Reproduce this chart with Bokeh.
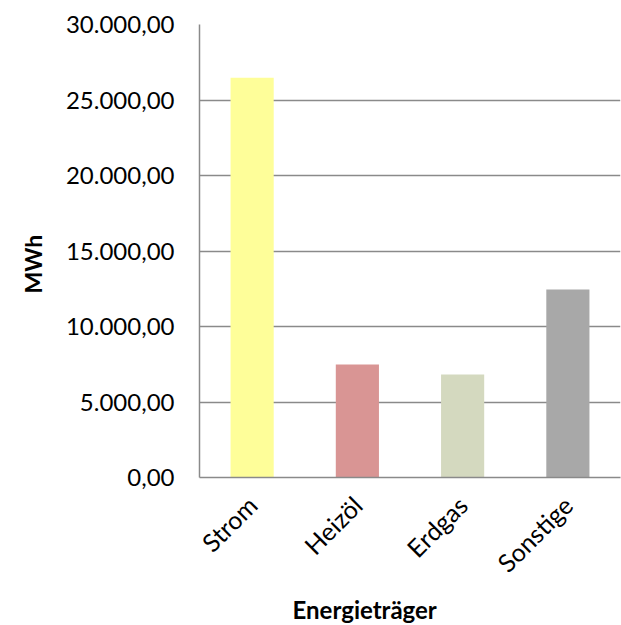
import math
from bokeh.plotting import figure
from bokeh.models import ColumnDataSource, FixedTicker, Title
from bokeh.embed import file_html
from bokeh.resources import INLINE

categories = ["Strom", "Heizöl", "Erdgas", "Sonstige"]
values = [26480, 7480, 6820, 12450]
colors = ["#FEFE99", "#D99594", "#D4D9BF", "#A8A8A8"]
y_ticks = [0, 5000, 10000, 15000, 20000, 25000, 30000]
y_tick_labels = ["0,00", "5.000,00", "10.000,00", "15.000,00", "20.000,00", "25.000,00", "30.000,00"]
x_title = "Energieträger"
y_title = "MWh"

src = ColumnDataSource(dict(cat=categories, val=values, color=colors))

p = figure(x_range=categories, y_range=(0, 30000), width=621, height=625,
           output_backend="svg", toolbar_location=None,
           min_border_left=199, min_border_right=1, min_border_top=24, min_border_bottom=148)
p.x_range.range_padding = 0
p.vbar(x="cat", top="val", width=0.41, fill_color="color", line_color=None, source=src)

font = "Lato"
p.outline_line_color = None
p.background_fill_color = "white"
p.border_fill_color = "white"

p.xgrid.grid_line_color = None
p.ygrid.grid_line_color = "#8A8A8A"
p.ygrid.grid_line_width = 1.5

p.yaxis.ticker = FixedTicker(ticks=y_ticks)
p.yaxis.major_label_overrides = {t: l for t, l in zip(y_ticks, y_tick_labels)}
p.yaxis.major_tick_line_color = None
p.yaxis.minor_tick_line_color = None
p.yaxis.axis_line_color = "#8A8A8A"
p.yaxis.axis_line_width = 1.5
p.yaxis.major_label_text_font = font
p.yaxis.major_label_text_font_size = "24px"
p.yaxis.major_label_text_color = "black"
p.yaxis.major_label_standoff = 19

p.xaxis.major_tick_line_color = None
p.xaxis.axis_line_color = "#8A8A8A"
p.xaxis.axis_line_width = 1.5
p.xaxis.major_label_orientation = math.pi / 4
p.xaxis.major_label_text_font = font
p.xaxis.major_label_text_font_size = "25px"
p.xaxis.major_label_text_color = "black"
p.xaxis.major_label_standoff = 17

xt = Title(text=x_title, align="left", offset=93, text_font=font,
           text_font_size="24px", text_font_style="bold", text_color="black",
           standoff=3, text_line_height=0.8)
p.add_layout(xt, "below")

yt = Title(text=y_title, align="left", offset=184, text_font=font,
           text_font_size="23px", text_font_style="bold", text_color="black",
           standoff=32, text_line_height=0.8)
p.add_layout(yt, "left")

open("out.html", "w").write(file_html(p, INLINE))
